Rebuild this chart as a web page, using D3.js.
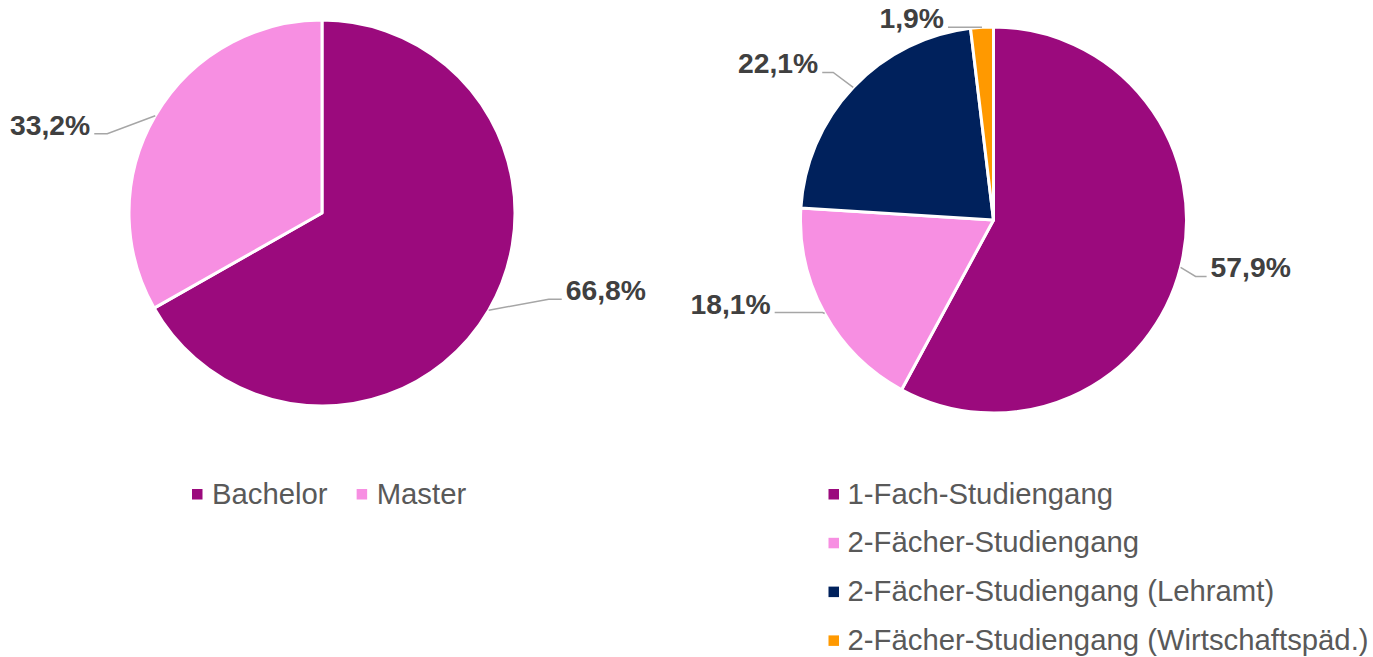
<!DOCTYPE html>
<html>
<head>
<meta charset="utf-8">
<script src="https://cdn.jsdelivr.net/npm/d3@7"></script>
<style>
  body { margin: 0; background: #fff; }
  svg { display: block; }
</style>
</head>
<body>
<svg id="chart" width="1373" height="657"></svg>
<script>
// Data
const leftCategories = ["Bachelor", "Master"];
const leftValues = [66.8, 33.2];
const leftColors = ["#9B0A7D", "#F78FE2"];

const rightCategories = ["1-Fach-Studiengang", "2-Fächer-Studiengang", "2-Fächer-Studiengang (Lehramt)", "2-Fächer-Studiengang (Wirtschaftspäd.)"];
const rightValues = [57.9, 18.1, 22.1, 1.9];
const rightColors = ["#9B0A7D", "#F78FE2", "#00215C", "#FF9900"];

// Label leader layout (elbow offset from slice edge, horizontal run)
const leftLeaders = [{dx: 60, dy: -11, run: 13}, {dx: -48, dy: 18, run: -13}];
const rightLeaders = [{dx: 15, dy: 9, run: 11}, {dx: -2, dy: -1, run: -48}, {dx: -20, dy: -15, run: -11}, {dx: -12, dy: 0, run: -22}];

const svg = d3.select("#chart");
const fmt = v => d3.format(".1f")(v).replace(".", ",") + "%";

function drawPie(cfg) {
    let g = svg.append("g").attr("transform", "translate(" + cfg.cx + "," + cfg.cy + ")");
    let data = cfg.values.map(function(v, i) { return {value: v, i: i}; });
    let pie = d3.pie().sort(null).value(function(d) { return d.value; });
    let arcs = pie(data);
    let arc = d3.arc().innerRadius(0).outerRadius(cfg.r);

    g.selectAll("path.slice")
        .data(arcs)
        .enter()
        .append("path")
        .attr("class", "slice")
        .attr("d", arc)
        .style("fill", function(d) { return cfg.colors[d.data.i]; })
        .style("stroke", "#fff")
        .style("stroke-width", 3)
        .style("stroke-linejoin", "round");

    // leader lines + labels
    arcs.forEach(function(d, i) {
        let mid = (d.startAngle + d.endAngle) / 2;
        let ex = cfg.r * Math.sin(mid);
        let ey = -cfg.r * Math.cos(mid);
        let L = cfg.leaders[i];
        let bx = ex + L.dx, by = ey + L.dy;
        let hx = bx + L.run;
        g.append("polyline")
            .attr("points", [[ex, ey], [bx, by], [hx, by]].map(p => p.join(",")).join(" "))
            .style("fill", "none")
            .style("stroke", "#A6A6A6")
            .style("stroke-width", 1.5);
        g.append("text")
            .attr("x", hx + (L.run > 0 ? 4 : -4))
            .attr("y", by + 1)
            .attr("text-anchor", L.run > 0 ? "start" : "end")
            .style("font-family", "'Liberation Sans', Arial, sans-serif")
            .style("font-weight", "bold")
            .style("font-size", "28.3px")
            .style("fill", "#404040")
            .text(fmt(d.data.value));
    });
}

drawPie({cx: 322, cy: 213, r: 193, values: leftValues, colors: leftColors, leaders: leftLeaders});
drawPie({cx: 993.5, cy: 220, r: 193, values: rightValues, colors: rightColors, leaders: rightLeaders});

// Legends
const legendFont = "'Liberation Sans', Arial, sans-serif";

// left legend: horizontal
let lx = 192;
let leftLegend = svg.append("g");
leftCategories.forEach(function(c, i) {
    leftLegend.append("rect")
        .attr("x", lx).attr("y", 489)
        .attr("width", 10.5).attr("height", 10.5)
        .style("fill", leftColors[i]);
    let t = leftLegend.append("text")
        .attr("x", lx + 20).attr("y", 503.5)
        .style("font-family", legendFont)
        .style("font-size", "29.3px")
        .style("fill", "#595959")
        .text(c);
    lx = lx + 20 + t.node().getComputedTextLength() + 29;
});

// right legend: vertical
let rightLegend = svg.append("g");
rightCategories.forEach(function(c, i) {
    let by = 503.5 + i * 48.8;
    rightLegend.append("rect")
        .attr("x", 828.5).attr("y", by - 14.5)
        .attr("width", 10.5).attr("height", 10.5)
        .style("fill", rightColors[i]);
    rightLegend.append("text")
        .attr("x", 847.5).attr("y", by)
        .style("font-family", legendFont)
        .style("font-size", "29.3px")
        .style("fill", "#595959")
        .text(c);
});
</script>
</body>
</html>
